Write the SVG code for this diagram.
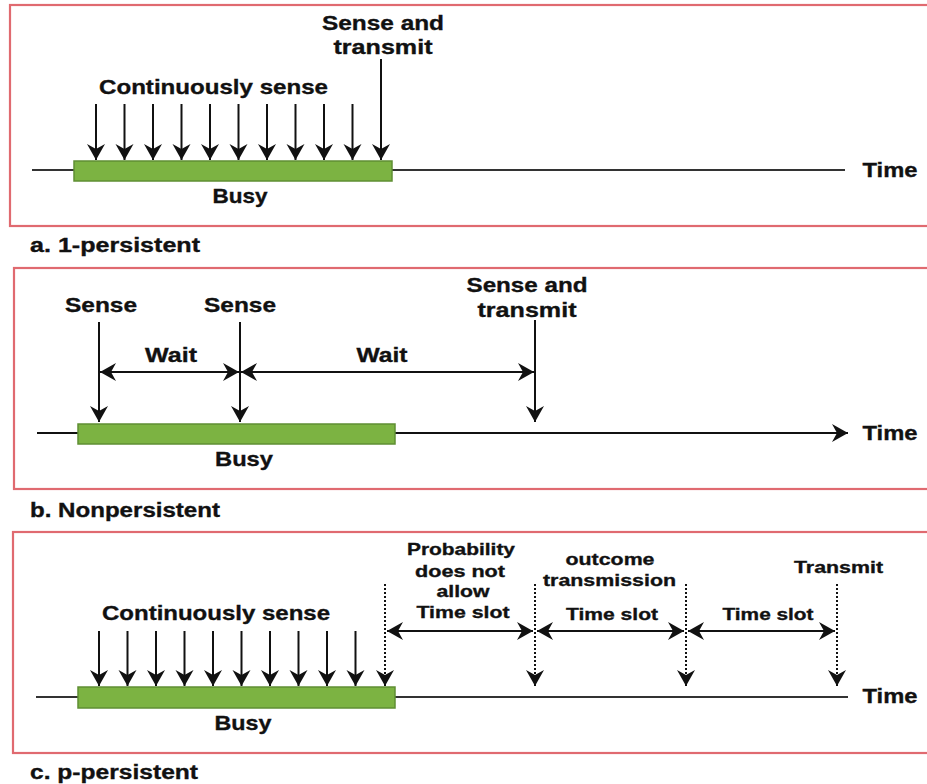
<svg xmlns="http://www.w3.org/2000/svg" width="927" height="784" viewBox="0 0 927 784">
  <defs>
    <!-- filled notched arrowhead used by every connector -->
    <marker id="head" viewBox="-17 -10 18 20" refX="0" refY="0" markerWidth="18" markerHeight="20" markerUnits="userSpaceOnUse" orient="auto-start-reverse">
      <path d="M0,0 L-16,-9 L-11,0 L-16,9 Z" fill="#111"/>
    </marker>
  </defs>
  <style>
    .frame { fill: none; stroke: #e06a70; stroke-width: 2.2; }
    .axis { stroke: #333; stroke-width: 2; fill: none; }
    .busy { fill: #7cb342; stroke: #5f8f33; stroke-width: 1.5; }
    .arrow { stroke: #111; stroke-width: 2; fill: none; marker-end: url(#head); }
    .dbl { stroke: #111; stroke-width: 2; fill: none; marker-start: url(#head); marker-end: url(#head); }
    .dot { stroke: #111; stroke-width: 2; fill: none; stroke-dasharray: 2 2; marker-end: url(#head); }
    text { font-family: "Liberation Sans", Arial, sans-serif; font-weight: bold; fill: #111; stroke: #111; stroke-width: 0.35; }
    .lbl { font-size: 21px; text-anchor: middle; }
    .sm { font-size: 17px; text-anchor: middle; }
    .cap { font-size: 20px; }
  </style>

  <rect width="927" height="784" fill="#fff"/>

  <!-- a. 1-persistent -->
  <g id="panel-a">
    <rect class="frame" x="10" y="5" width="940" height="221"/>
    <line class="axis" x1="32" y1="170" x2="845" y2="170"/>
    <rect id="busy-a" class="busy" x="74" y="161" width="318" height="20"/>
    <g id="sense-a">
      <path class="arrow" d="M96,104 V160"/>
      <path class="arrow" d="M124.5,104 V160"/>
      <path class="arrow" d="M153,104 V160"/>
      <path class="arrow" d="M181.5,104 V160"/>
      <path class="arrow" d="M210,104 V160"/>
      <path class="arrow" d="M238.5,104 V160"/>
      <path class="arrow" d="M267,104 V160"/>
      <path class="arrow" d="M295.5,104 V160"/>
      <path class="arrow" d="M324,104 V160"/>
      <path class="arrow" d="M352.5,104 V160"/>
      <path class="arrow" d="M381,59 V160"/>
    </g>
    <text class="lbl" x="383" y="30" textLength="122" lengthAdjust="spacingAndGlyphs">Sense and</text>
    <text class="lbl" x="383" y="54" textLength="99" lengthAdjust="spacingAndGlyphs">transmit</text>
    <text class="lbl" x="213.5" y="94" textLength="229" lengthAdjust="spacingAndGlyphs">Continuously sense</text>
    <text class="lbl" x="240" y="203" textLength="55" lengthAdjust="spacingAndGlyphs">Busy</text>
    <text class="lbl" x="890" y="177" textLength="55" lengthAdjust="spacingAndGlyphs">Time</text>
  </g>
  <text id="caption-a" class="cap" x="30" y="252" textLength="170" lengthAdjust="spacingAndGlyphs">a. 1-persistent</text>

  <!-- b. Nonpersistent -->
  <g id="panel-b">
    <rect class="frame" x="14" y="268" width="940" height="221"/>
    <path class="arrow" d="M37,433 H848"/>
    <rect id="busy-b" class="busy" x="78" y="424" width="317" height="20"/>
    <g id="conn-b">
      <path class="arrow" d="M99,322 V422"/>
      <path class="arrow" d="M240,322 V422"/>
      <path class="arrow" d="M535,320 V422"/>
      <path class="dbl" d="M100,372 H239"/>
      <path class="dbl" d="M241,372 H534"/>
    </g>
    <text class="lbl" x="101" y="312" textLength="72" lengthAdjust="spacingAndGlyphs">Sense</text>
    <text class="lbl" x="240" y="312" textLength="72" lengthAdjust="spacingAndGlyphs">Sense</text>
    <text class="lbl" x="171" y="362" textLength="52" lengthAdjust="spacingAndGlyphs">Wait</text>
    <text class="lbl" x="382" y="362" textLength="51" lengthAdjust="spacingAndGlyphs">Wait</text>
    <text class="lbl" x="527" y="292" textLength="121" lengthAdjust="spacingAndGlyphs">Sense and</text>
    <text class="lbl" x="527" y="317" textLength="99" lengthAdjust="spacingAndGlyphs">transmit</text>
    <text class="lbl" x="244" y="466" textLength="58" lengthAdjust="spacingAndGlyphs">Busy</text>
    <text class="lbl" x="890" y="440" textLength="55" lengthAdjust="spacingAndGlyphs">Time</text>
  </g>
  <text id="caption-b" class="cap" x="30" y="517" textLength="190" lengthAdjust="spacingAndGlyphs">b. Nonpersistent</text>

  <!-- c. p-persistent -->
  <g id="panel-c">
    <rect class="frame" x="13" y="532" width="940" height="221"/>
    <line class="axis" x1="36" y1="697" x2="848" y2="697"/>
    <rect id="busy-c" class="busy" x="78" y="687" width="317" height="21"/>
    <g id="sense-c">
      <path class="arrow" d="M99,631 V686"/>
      <path class="arrow" d="M127.5,631 V686"/>
      <path class="arrow" d="M156,631 V686"/>
      <path class="arrow" d="M184.5,631 V686"/>
      <path class="arrow" d="M213,631 V686"/>
      <path class="arrow" d="M241.5,631 V686"/>
      <path class="arrow" d="M270,631 V686"/>
      <path class="arrow" d="M298.5,631 V686"/>
      <path class="arrow" d="M327,631 V686"/>
      <path class="arrow" d="M355.5,631 V686"/>
    </g>
    <g id="slots-c">
      <path class="dot" d="M385,584 V686"/>
      <path class="dot" d="M535,584 V686"/>
      <path class="dot" d="M686,584 V686"/>
      <path class="dot" d="M837,584 V686"/>
      <path class="dbl" d="M387,631 H533"/>
      <path class="dbl" d="M537,631 H684"/>
      <path class="dbl" d="M688,631 H835"/>
    </g>
    <text class="lbl" x="216" y="620" textLength="228" lengthAdjust="spacingAndGlyphs">Continuously sense</text>
    <text class="lbl" x="243" y="730" textLength="57" lengthAdjust="spacingAndGlyphs">Busy</text>
    <text class="lbl" x="890" y="703" textLength="55" lengthAdjust="spacingAndGlyphs">Time</text>
    <text class="sm" x="461" y="555" textLength="108" lengthAdjust="spacingAndGlyphs">Probability</text>
    <text class="sm" x="460" y="577" textLength="90" lengthAdjust="spacingAndGlyphs">does not</text>
    <text class="sm" x="463" y="597" textLength="53" lengthAdjust="spacingAndGlyphs">allow</text>
    <text class="sm" x="463" y="618" textLength="93" lengthAdjust="spacingAndGlyphs">Time slot</text>
    <text class="sm" x="610" y="565" textLength="89" lengthAdjust="spacingAndGlyphs">outcome</text>
    <text class="sm" x="609.5" y="586" textLength="133" lengthAdjust="spacingAndGlyphs">transmission</text>
    <text class="sm" x="612" y="620" textLength="92" lengthAdjust="spacingAndGlyphs">Time slot</text>
    <text class="sm" x="768" y="620" textLength="91" lengthAdjust="spacingAndGlyphs">Time slot</text>
    <text class="sm" x="838.5" y="573" textLength="89" lengthAdjust="spacingAndGlyphs">Transmit</text>
  </g>
  <text id="caption-c" class="cap" x="30" y="779" textLength="168" lengthAdjust="spacingAndGlyphs">c. p-persistent</text>
</svg>
